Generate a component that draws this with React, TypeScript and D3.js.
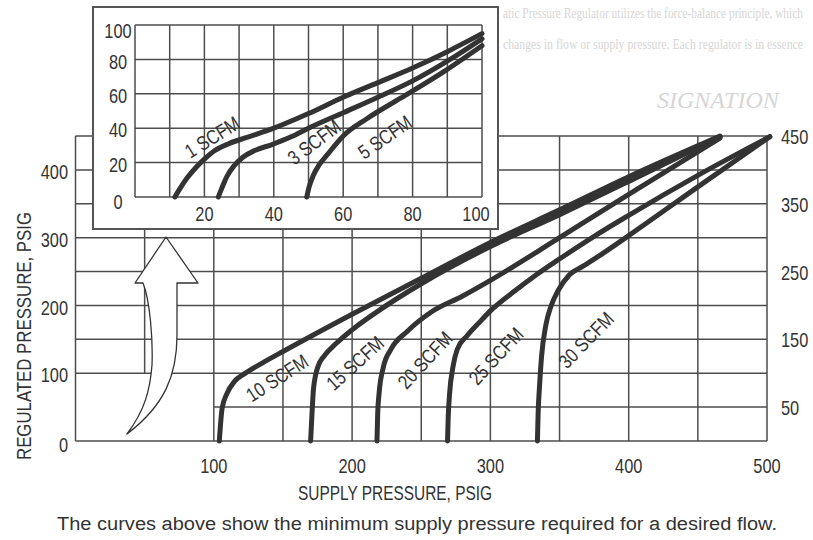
import React from 'react';
import * as d3 from 'd3';

const W = 813;
const H = 540;

// Main chart axes
const supplyTicks = [100, 200, 300, 400, 500];
const leftTicks = [0, 100, 200, 300, 400];
const rightTicks = [50, 150, 250, 350, 450];
const mainGridX = [0, 50, 100, 150, 200, 250, 300, 350, 400, 450, 500];
const mainGridY = [0, 50, 100, 150, 200, 250, 300, 350, 400, 450];

// Inset axes
const insetXTicks = [20, 40, 60, 80, 100];
const insetYTicks = [0, 20, 40, 60, 80, 100];
const insetGridX = [0, 10, 20, 30, 40, 50, 60, 70, 80, 90, 100];
const insetGridY = [0, 20, 40, 60, 80, 100];

// Main curves: [supply psig, regulated psig]
const scfm10: [number, number][] = [[104, 0], [106, 48], [109.5, 70], [115, 88], [122, 99], [135, 115], [150, 132], [200, 187], [250, 240], [300, 293], [350, 341], [400, 390], [466, 450]];
const scfm15: [number, number][] = [[170, 0], [171, 40], [172, 75], [175, 108], [180, 126], [188, 143], [200, 164], [219, 192], [250, 232], [300, 287], [350, 334], [400, 383], [466, 449]];
const scfm20: [number, number][] = [[218, 0], [218.5, 40], [219.5, 70], [222.5, 108], [228, 135], [240, 162], [257, 190], [280, 214], [300, 237], [350, 300], [400, 364], [466, 447]];
const scfm25: [number, number][] = [[269, 0], [269.5, 35], [270.5, 70], [273, 110], [276, 135], [283, 155], [292, 175], [300, 192], [318, 222], [331, 242], [351, 270], [375, 302], [400, 333], [450, 392], [502, 449]];
const scfm30: [number, number][] = [[334, 0], [334.5, 40], [335.5, 80], [337, 125], [340, 170], [344, 200], [349, 222], [357, 245], [367, 258], [380, 275], [400, 303], [450, 375], [502, 449]];
const mainSeries = [scfm10, scfm15, scfm20, scfm25, scfm30];

// Main curve labels: text, [supply, regulated] centre, rotation
const mainLabelText = ['10 SCFM', '15 SCFM', '20 SCFM', '25 SCFM', '30 SCFM'];
const mainLabelPos: [number, number][] = [[145.7, 93], [202.1, 115], [252.7, 119.5], [304, 125.4], [369.1, 149]];
const mainLabelAngle = [-33, -42, -47, -47, -46];

// Inset curves
const scfm1: [number, number][] = [[11.5, 0], [13, 5], [15, 11], [17.5, 17], [20, 22], [23, 27], [27, 31], [32, 34.5], [40, 40], [50, 48.5], [60, 58], [70, 66.5], [80, 75], [90, 84.5], [100, 95]];
const scfm3: [number, number][] = [[24, 0], [25, 5], [26.5, 12], [28.5, 18], [31, 23], [34.5, 27], [39.5, 30.5], [45, 35], [50, 40], [60, 49], [70, 58], [80, 67.5], [90, 79], [100, 92]];
const scfm5: [number, number][] = [[49.5, 0], [50.2, 6], [51.4, 12.6], [53, 18.5], [55.3, 24.3], [60, 35.5], [66.8, 45.5], [76.4, 57.3], [88.9, 72.8], [100, 88]];
const insetSeries = [scfm1, scfm3, scfm5];
const insetLabelText = ['1 SCFM', '3 SCFM', '5 SCFM'];
const insetLabelPos: [number, number][] = [[22.2, 34.8], [51.6, 32], [72, 34.9]];
const insetLabelAngle = [-32, -37, -35];

// Decorative hollow arrow outline, in chart units
const arrowPts: [number, number][] = [
  [65.44, 301.0], [88.57, 233.1], [73.39, 233.1], [73.39, 156.4],
  [73.39, 97.4], [64.71, 53.1], [37.24, 10.3],
  [50.25, 45.7], [53.87, 75.2], [55.31, 112.1],
  [56.04, 149.0], [53.87, 208.0], [48.81, 233.1], [43.02, 233.1],
];

const SANS = "'Liberation Sans', Arial, sans-serif";
const INK = '#333';
const GRID = '#4d4d4d';
const NARROW_X = 0.82;

// Narrow text: a regular face compressed horizontally with a transform
function NText(props: any) {
  const { children, size = 20, x = 0, y = 0, angle = 0, ...rest } = props;
  return (
    <text
      transform={`translate(${x} ${y}) rotate(${angle}) scale(${NARROW_X} 1)`}
      x={0}
      y={0}
      fontFamily={SANS}
      fontSize={size}
      {...rest}
    >
      {String(children)}
    </text>
  );
}

export default function App() {
  const x = d3.scaleLinear().domain([0, 500]).range([75.5, 767]);
  const y = d3.scaleLinear().domain([0, 450]).range([441, 136]);
  const ix = d3.scaleLinear().domain([0, 100]).range([135, 482]);
  const iy = d3.scaleLinear().domain([0, 100]).range([197, 25]);

  const mainLine = d3.line<[number, number]>().x(d => x(d[0])).y(d => y(d[1])).curve(d3.curveMonotoneX);
  const insetLine = d3.line<[number, number]>().x(d => ix(d[0])).y(d => iy(d[1])).curve(d3.curveMonotoneX);

  const P = arrowPts.map(p => [x(p[0]), y(p[1])]);
  const f = (p: number[]) => `${p[0].toFixed(1)},${p[1].toFixed(1)}`;
  const arrowPath = `M${f(P[0])} L${f(P[1])} L${f(P[2])} L${f(P[3])} C${f(P[4])} ${f(P[5])} ${f(P[6])} C${f(P[7])} ${f(P[8])} ${f(P[9])} C${f(P[10])} ${f(P[11])} ${f(P[12])} L${f(P[13])} Z`;

  const boxX0 = ix(0) - 42, boxX1 = ix(100) + 16, boxY0 = iy(100) - 18, boxY1 = iy(0) + 32;

  return (
    <svg width={W} height={H} viewBox={`0 0 ${W} ${H}`} style={{ position: 'absolute', left: 0, top: 0, background: '#fff' }}>
      <rect x={0} y={0} width={W} height={H} fill="#fff" />
      {/* faint show-through text from the printed page */}
      <g fill="#d6d6d6" fontFamily="'Liberation Serif', serif">
        <text transform="translate(503 18) scale(0.6 1)" x={0} y={0} fontSize={15} textLength={500} lengthAdjust="spacingAndGlyphs">atic Pressure Regulator utilizes the force-balance principle, which</text>
        <text transform="translate(503 49) scale(0.6 1)" x={0} y={0} fontSize={15} textLength={500} lengthAdjust="spacingAndGlyphs">changes in flow or supply pressure. Each regulator is in essence</text>
        <text x={657} y={108} fontSize={24} fontStyle="italic">SIGNATION</text>
      </g>

      {/* main grid */}
      <g stroke={GRID} strokeWidth={1.5} fill="none">
        {mainGridX.map(v => (
          <line key={'gx' + v} x1={x(v)} x2={x(v)} y1={y(v === 50 ? 100 : 0)} y2={y(450)} />
        ))}
        {mainGridY.map(v => (
          <line key={'gy' + v} x1={x(v === 50 ? 100 : 0)} x2={x(500)} y1={y(v)} y2={y(v)} />
        ))}
      </g>

      {/* arrow */}
      <path d={arrowPath} fill="#fff" stroke={INK} strokeWidth={1.3} strokeLinejoin="round" />

      {/* main curves */}
      <g fill="none" stroke="#333" strokeWidth={5} strokeLinecap="round" strokeLinejoin="round">
        {mainSeries.map((s, i) => <path key={'m' + i} d={mainLine(s) || ''} />)}
      </g>
      <g fill={INK}>
        {mainLabelText.map((t, i) => (
          <NText key={'ml' + i} x={x(mainLabelPos[i][0])} y={y(mainLabelPos[i][1])} angle={mainLabelAngle[i]} textAnchor="middle" dominantBaseline="central">{t}</NText>
        ))}
      </g>

      {/* main axis labels */}
      <g fill={INK}>
        {supplyTicks.map(v => (
          <NText key={'xt' + v} x={x(v)} y={466} textAnchor="middle" dominantBaseline="central">{v}</NText>
        ))}
        {leftTicks.map(v => (
          <NText key={'lt' + v} x={68} y={y(v) + (v === 0 ? 4 : 2)} textAnchor="end" dominantBaseline="central">{v}</NText>
        ))}
        {rightTicks.map(v => (
          <NText key={'rt' + v} x={781} y={y(v) + 1} textAnchor="start" dominantBaseline="central">{v}</NText>
        ))}
        <text x={395} y={500} textAnchor="middle" fontFamily={SANS} fontSize={20} textLength={194} lengthAdjust="spacingAndGlyphs">SUPPLY PRESSURE, PSIG</text>
        <text transform="translate(31 336) rotate(-90)" x={0} y={0} textAnchor="middle" fontFamily={SANS} fontSize={20} textLength={248} lengthAdjust="spacingAndGlyphs">REGULATED PRESSURE, PSIG</text>
      </g>
      <text x={57} y={530} fill={INK} fontFamily={SANS} fontSize={18} textLength={720} lengthAdjust="spacingAndGlyphs">The curves above show the minimum supply pressure required for a desired flow.</text>

      {/* inset */}
      <rect x={boxX0} y={boxY0} width={boxX1 - boxX0} height={boxY1 - boxY0} fill="#fff" stroke="#555" strokeWidth={2} />
      <g stroke={GRID} strokeWidth={1.5}>
        {insetGridX.map(v => (
          <line key={'ix' + v} x1={ix(v)} x2={ix(v)} y1={iy(0)} y2={iy(100)} />
        ))}
        {insetGridY.map(v => (
          <line key={'iy' + v} x1={ix(0)} x2={ix(100)} y1={iy(v)} y2={iy(v)} />
        ))}
      </g>
      <g fill="none" stroke="#333" strokeWidth={5} strokeLinecap="round" strokeLinejoin="round">
        {insetSeries.map((s, i) => <path key={'is' + i} d={insetLine(s) || ''} />)}
      </g>
      <g fill={INK}>
        {insetLabelText.map((t, i) => (
          <NText key={'il' + i} x={ix(insetLabelPos[i][0])} y={iy(insetLabelPos[i][1])} angle={insetLabelAngle[i]} textAnchor="middle" dominantBaseline="central">{t}</NText>
        ))}
        {insetXTicks.map(v => (
          <NText key={'ixt' + v} x={v === 100 ? ix(v) - 6 : ix(v)} y={214} textAnchor="middle" dominantBaseline="central">{v}</NText>
        ))}
        {insetYTicks.map(v => (
          <NText key={'iyt' + v} x={118} y={iy(v) + (v === 100 ? 6 : v === 0 ? 5 : 2)} textAnchor="middle" dominantBaseline="central">{v}</NText>
        ))}
      </g>
    </svg>
  );
}
